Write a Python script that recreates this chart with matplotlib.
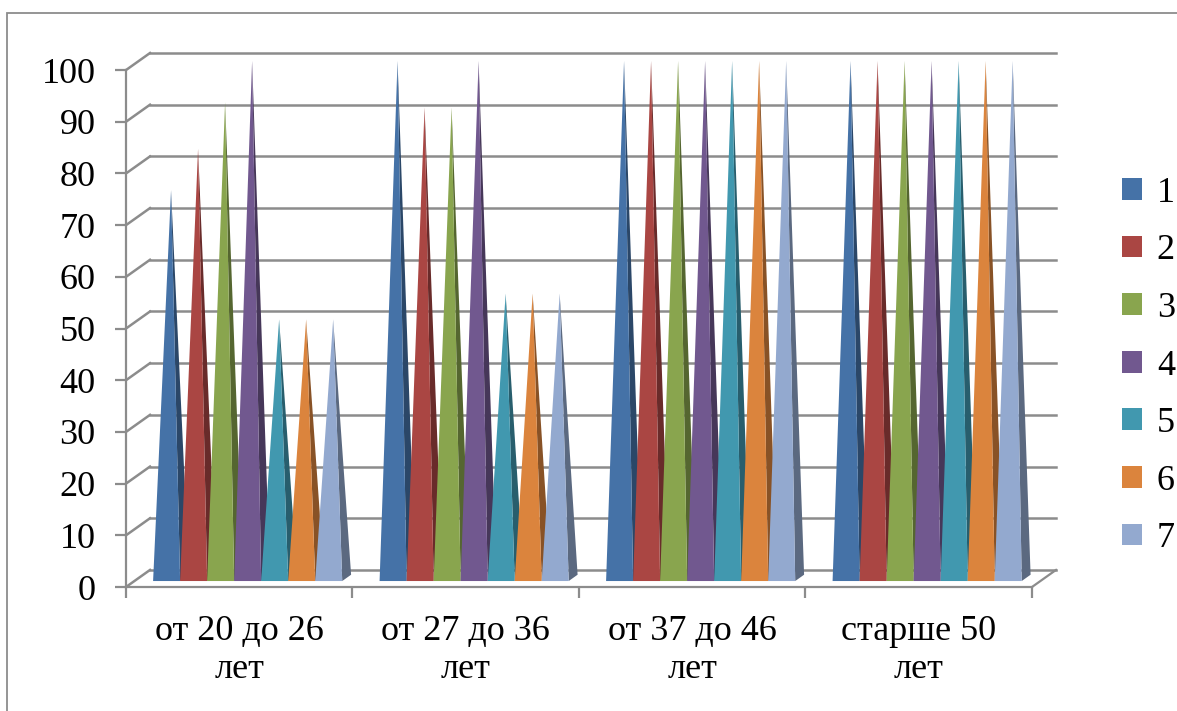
import matplotlib
matplotlib.use('Agg')
import matplotlib.pyplot as plt
from matplotlib.patches import Patch, Polygon, Rectangle
import numpy as np

plt.rcParams['font.family'] = ['Liberation Serif', 'DejaVu Serif']

# data
categories = ['от 20 до 26\nлет', 'от 27 до 36\nлет', 'от 37 до 46\nлет', 'старше 50\nлет']
series_names = ['1', '2', '3', '4', '5', '6', '7']
s1 = [75, 100, 100, 100]
s2 = [83, 91, 100, 100]
s3 = [92, 91, 100, 100]
s4 = [100, 100, 100, 100]
s5 = [50, 55, 100, 100]
s6 = [50, 55, 100, 100]
s7 = [50, 55, 100, 100]
series = [s1, s2, s3, s4, s5, s6, s7]
yticks = list(range(0, 101, 10))

colors = ['#4572A7', '#AA4643', '#89A54E', '#71588F', '#4198AF', '#DB843D', '#93A9CF']
grid_col = '#8C8C8C'

# fake 3d: depth offset of back wall in data units
DX = 0.106
DY = 3.3
gap = 0.165
pw = (1 - gap) / len(series)
f0 = 0.35   # front of pyramids, fraction of depth
fd = 0.37   # pyramid depth, fraction of depth

fig = plt.figure(figsize=(11.77, 7.11), dpi=100)
ax = fig.add_axes([126 / 1177, (711 - 587) / 711, 930 / 1177, 534 / 711])
ax.set_xlim(0, 4 + DX)
ax.set_ylim(0, 100 + DY)

# outer chart border (runs off the image on right and bottom)
fig.patches.append(Rectangle((7 / 1177, -0.1), 1.2, 1.1 - 13 / 711, transform=fig.transFigure,
                             fill=False, edgecolor='#8C8C8C', lw=1.3))

for s in ['top', 'right']:
    ax.spines[s].set_visible(False)
ax.spines['left'].set_bounds(0, 100)
ax.spines['bottom'].set_bounds(0, 4)
for s in ['left', 'bottom']:
    ax.spines[s].set_color(grid_col)
    ax.spines[s].set_linewidth(1.6)

ax.set_yticks(yticks)
ax.tick_params(axis='y', length=8, width=1.6, color=grid_col, pad=14, labelsize=26)
ax.set_xticks(range(5))
ax.set_xticklabels([])
ax.set_xticks(np.arange(4) + 0.5, minor=True)
ax.set_xticklabels(categories, minor=True)
ax.tick_params(axis='x', which='major', length=8, width=1.6, color=grid_col)
ax.tick_params(axis='x', which='minor', length=0, pad=20, labelsize=26)

# back wall gridlines and side wall edges
for v in yticks:
    ax.plot([0, DX], [v, v + DY], color=grid_col, lw=1.8, clip_on=False, zorder=1)
    ax.plot([DX, 4 + DX], [v + DY, v + DY], color=grid_col, lw=1.8, clip_on=False, zorder=1)
ax.plot([4, 4 + DX], [0, DY], color=grid_col, lw=1.6, clip_on=False, zorder=1)


def darker(c, k=0.62):
    r, g, b = matplotlib.colors.to_rgb(c)
    return (r * k, g * k, b * k)


z = 2
for i in range(len(categories)):
    for j, vals in enumerate(series):
        v = vals[i]
        x0 = i + gap / 2 + j * pw + f0 * DX
        y0 = f0 * DY
        apex = (x0 + pw / 2 + fd / 2 * DX, y0 + fd / 2 * DY + v)
        side = Polygon([(x0 + pw, y0), (x0 + pw + fd * DX, y0 + fd * DY), apex],
                       closed=True, facecolor=darker(colors[j]), edgecolor='none', zorder=z)
        front = Polygon([(x0, y0), (x0 + pw, y0), apex],
                        closed=True, facecolor=colors[j], edgecolor='none', zorder=z + 1)
        ax.add_patch(side)
        ax.add_patch(front)
        z += 2

handles = [Patch(facecolor=c, edgecolor='none') for c in colors]
fig.legend(handles, series_names, loc='center left', bbox_to_anchor=(1108 / 1177, (711 - 366) / 711),
           frameon=False, fontsize=26, handlelength=0.55, handleheight=0.55,
           handletextpad=0.4, labelspacing=0.68, borderaxespad=0)

fig.savefig('out.png', dpi=100)
